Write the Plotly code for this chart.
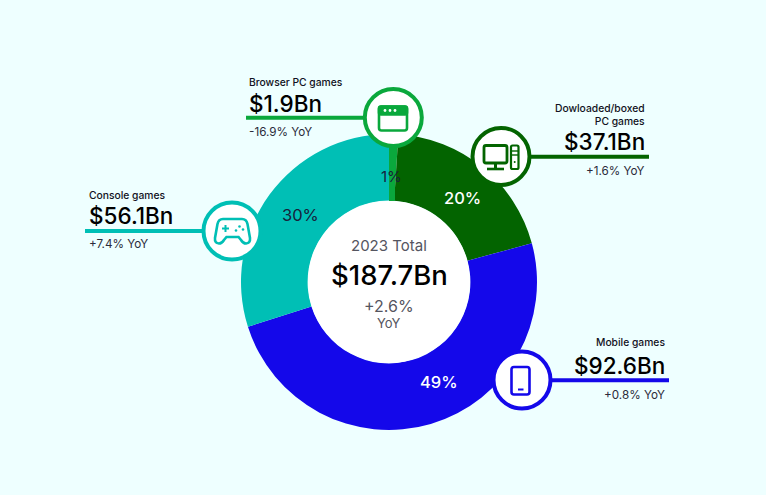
import plotly.graph_objects as go

W, H = 766, 495
labels = ["Browser PC games", "Dowloaded/boxed<br>PC games", "Mobile games", "Console games"]
values = [1.9, 37.1, 92.6, 56.1]
amounts = ["$1.9Bn", "$37.1Bn", "$92.6Bn", "$56.1Bn"]
yoy = ["-16.9% YoY", "+1.6% YoY", "+0.8% YoY", "+7.4% YoY"]
shares = ["1%", "20%", "49%", "30%"]
colors = ["#0AA83C", "#036400", "#1408EA", "#00BFB5"]
BG = "#EEFFFF"
FONT = "Inter"

def X(x): return x / W
def Y(y): return 1 - y / H

def P(d):
    out = []
    for c in d:
        if isinstance(c, str):
            out.append(c)
        else:
            out.append(f"{X(c[0]):.5f},{Y(c[1]):.5f}")
    return " ".join(out)

shapes = []
annos = []

def rect(x0, y0, x1, y1, fill=None, line=None, lw=0, r=0, layer="above"):
    if r:
        d = ["M", (x0 + r, y0), "L", (x1 - r, y0), "Q", (x1, y0), (x1, y0 + r), "L", (x1, y1 - r),
             "Q", (x1, y1), (x1 - r, y1), "L", (x0 + r, y1), "Q", (x0, y1), (x0, y1 - r), "L", (x0, y0 + r),
             "Q", (x0, y0), (x0 + r, y0), "Z"]
        s = dict(type="path", path=P(d))
    else:
        s = dict(type="rect", x0=X(x0), x1=X(x1), y0=Y(y0), y1=Y(y1))
    s.update(xref="paper", yref="paper", layer=layer, fillcolor=fill or "rgba(0,0,0,0)",
             line=dict(color=line or "rgba(0,0,0,0)", width=lw))
    shapes.append(s)

def circle(cx, cy, r, fill=None, line=None, lw=0):
    shapes.append(dict(type="circle", xref="paper", yref="paper", x0=X(cx - r), x1=X(cx + r),
                       y0=Y(cy + r), y1=Y(cy - r), fillcolor=fill or "rgba(0,0,0,0)",
                       line=dict(color=line or "rgba(0,0,0,0)", width=lw)))

def seg(x0, y0, x1, y1, color, lw):
    shapes.append(dict(type="line", xref="paper", yref="paper", x0=X(x0), x1=X(x1), y0=Y(y0), y1=Y(y1),
                       line=dict(color=color, width=lw)))

def txt(x, y, s, size, color, anchor="left", weight=400):
    annos.append(dict(x=X(x), y=Y(y), xref="paper", yref="paper", text=s, showarrow=False, xanchor=anchor,
                      yanchor="middle", align=anchor,
                      font=dict(family=FONT, size=size, color=color, weight=weight)))

# leader lines
seg(246, 117.7, 365, 117.7, colors[0], 4)
rect(389, 140, 395, 201, fill=colors[0])
circle(389, 282, 81, fill="white")
seg(529, 156.7, 649, 156.7, colors[1], 4)
seg(549, 380.3, 669, 380.3, colors[2], 4)
seg(85, 231, 205, 231, colors[3], 4)

# rings
for cx, cy, c in [(393.3, 117.6, colors[0]), (501, 156.5, colors[1]), (522, 380, colors[2]), (232, 231, colors[3])]:
    circle(cx, cy, 28.5, fill="white", line=c, lw=4)

# browser icon
c = colors[0]
rect(379, 106.5, 407, 130.5, fill="white", line=c, lw=2.6, r=2.5)
rect(379, 106.5, 407, 114.5, fill=c, line=c, lw=2.6, r=2)
for x in (385, 390, 395):
    circle(x, 110.5, 1.4, fill="white")

# computer icon
c = colors[1]
rect(484, 145.5, 507, 163, fill="white", line=c, lw=2.8, r=2)
seg(495.5, 163, 495.5, 168.5, c, 3)
seg(487, 169, 504, 169, c, 2.6)
rect(511, 145.5, 518.5, 169, fill="white", line=c, lw=2.2, r=1.5)
seg(512, 151, 518, 151, c, 1.4)
seg(512, 155, 518, 155, c, 1.4)
circle(514.7, 162, 1, fill=c)

# phone icon
c = colors[2]
rect(511.5, 367, 529.5, 394.5, fill="white", line=c, lw=2.6, r=2.5)
seg(518, 389.5, 523.5, 389.5, c, 2)

# gamepad icon
c = colors[3]
pad = ["M", (223, 219), "L", (242, 219), "Q", (246.5, 219), (247.5, 224), "L", (250, 238),
       "Q", (250.5, 243), (246, 243.5), "Q", (243, 243.5), (241, 240), "L", (238.5, 237), "L", (226.5, 237),
       "L", (224, 240), "Q", (222, 243.5), (219, 243.5), "Q", (214.5, 243), (215, 238), "L", (217.5, 224),
       "Q", (218.5, 219), (223, 219), "Z"]
shapes.append(dict(type="path", path=P(pad), xref="paper", yref="paper", fillcolor="white",
                   line=dict(color=c, width=2.6)))
seg(222, 228.5, 229, 228.5, c, 2)
seg(225.5, 225, 225.5, 232, c, 2)
circle(239.5, 226.5, 1.3, fill=c)
circle(243, 229.5, 1.3, fill=c)
circle(236, 230.5, 1.3, fill=c)

# side labels
LAB, SUB, TOP = "#111122", "#2B2B3A", "#000000"
AMT = 22.5
txt(247, 82.5, labels[0], 10.3, LAB, weight=500)
txt(247, 103, amounts[0], AMT, TOP, weight=500)
txt(247, 132, yoy[0], 11.7, SUB)

txt(647, 115, labels[1], 10.3, LAB, "right", 500)
txt(647, 141, amounts[1], AMT, TOP, "right", 500)
txt(647, 170.5, yoy[1], 11.7, SUB, "right")

txt(667, 342, labels[2], 10.3, LAB, "right", 500)
txt(667, 365, amounts[2], AMT, TOP, "right", 500)
txt(667, 395, yoy[2], 11.7, SUB, "right")

txt(87, 194.5, labels[3], 10.3, LAB, weight=500)
txt(87, 216, amounts[3], AMT, TOP, weight=500)
txt(87, 244.5, yoy[3], 11.7, SUB)

# share labels
txt(391, 176.5, shares[0], 15, "#17213B", "center")
txt(462, 198, shares[1], 16.5, "white", "center", 500)
txt(439, 382, shares[2], 16.5, "white", "center", 500)
txt(300, 215, shares[3], 16.5, "#17213B", "center")

# centre texts
txt(389, 245.5, "2023 Total", 15, "#555560", "center")
txt(389, 275, "$187.7Bn", 27.5, "#000000", "center", 500)
txt(389, 306, "+2.6%", 16, "#555560", "center")
txt(389, 323, "YoY", 13, "#555560", "center")

fig = go.Figure(go.Pie(
    labels=labels, values=values, sort=False, direction="clockwise", rotation=0, hole=0.55,
    marker=dict(colors=colors, line=dict(width=0)), textinfo="none", hoverinfo="label+value",
    domain=dict(x=[X(241), X(537)], y=[Y(430), Y(134)]), showlegend=False,
))
fig.update_layout(width=W, height=H, margin=dict(l=0, r=0, t=0, b=0), paper_bgcolor=BG,
                  plot_bgcolor=BG, shapes=shapes, annotations=annos, showlegend=False)
fig.write_html("out.html", config=dict(displayModeBar=False),
               post_script="document.body.style.margin='0';document.body.style.background='%s';" % BG)
